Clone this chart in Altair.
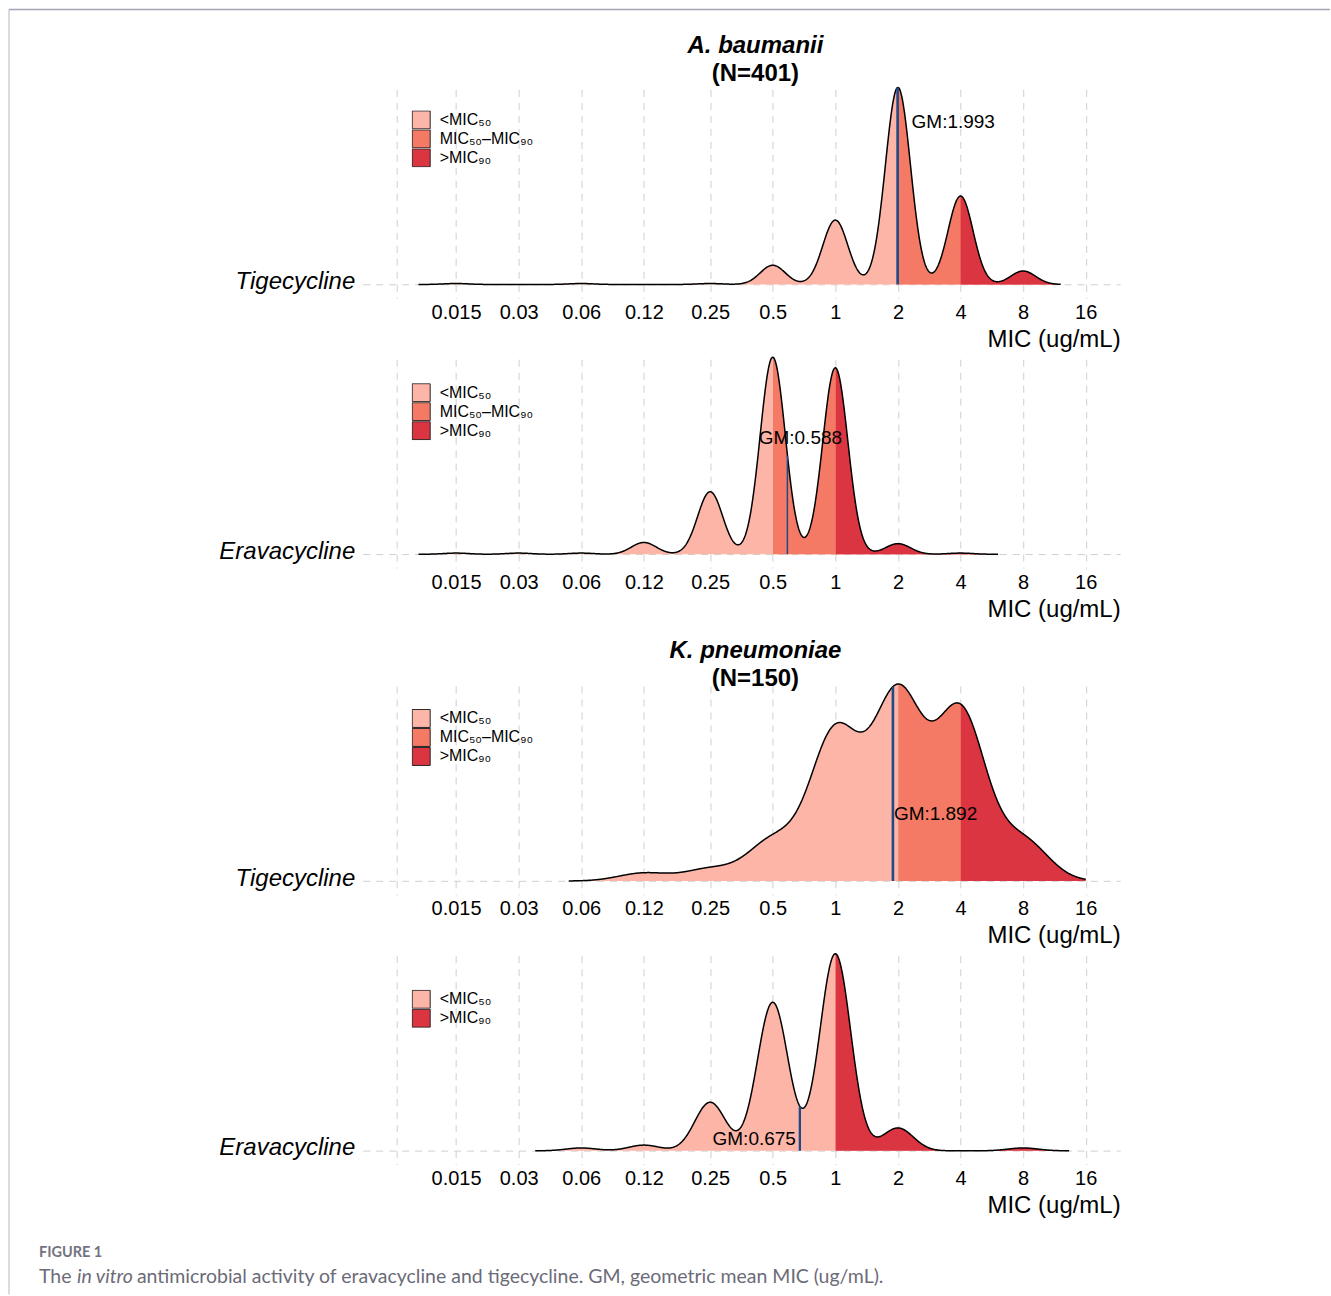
import numpy as np
import pandas as pd
import altair as alt

# MIC dilutions (ug/mL) and number of isolates at each dilution
AB_TIGE_MIC = [0.015, 0.06, 0.25, 0.5, 1, 2, 4, 8]
AB_TIGE_N = [1, 1, 1, 20, 67, 205, 92, 14]
AB_ERAVA_MIC = [0.015, 0.03, 0.06, 0.12, 0.25, 0.5, 1, 2, 4]
AB_ERAVA_N = [1, 1, 1, 10, 53, 167, 158, 9, 1]
KP_TIGE_MIC = [0.12, 0.25, 0.5, 1, 2, 4, 8]
KP_TIGE_N = [2, 3, 10, 37, 46, 42, 10]
KP_ERAVA_MIC = [0.06, 0.12, 0.25, 0.5, 1, 2, 8]
KP_ERAVA_N = [1, 2, 17, 52, 69, 8, 1]

# geometric means, MIC50 / MIC90 and kernel bandwidths (log2 units)
GM = [1.993, 0.588, 1.892, 0.675]
MIC50 = [2, 0.5, 2, 1]
MIC90 = [4, 1, 4, 1]
BANDWIDTH = [0.2, 0.2, 0.4, 0.245]

DRUGS = ["Tigecycline", "Eravacycline", "Tigecycline", "Eravacycline"]
SPECIES = [("A. baumanii", "(N=401)"), ("K. pneumoniae", "(N=150)")]

TICKS = [0.0078125, 0.015, 0.03, 0.06, 0.12, 0.25, 0.5, 1, 2, 4, 8, 16]

SEG_NAMES = ["<MIC\u2085\u2080", "MIC\u2085\u2080\u2013MIC\u2089\u2080", ">MIC\u2089\u2080"]
SEG_COLORS = ["#FDB5A8", "#F47A66", "#DC3542"]

# layout / style settings
PANEL_W = 758
PANEL_H = 209
X_DOMAIN = [-7.55, 4.55]
Y_DOMAIN = [-0.07, 0.99]
GRID = "#CFCFCF"
DASH = [7, 6]
GM_COLOR = "#1E4A86"
FONT = "Liberation Sans"

# GM label placement per panel: (height as share of peak, dx, align)
LABEL_POS = [(0.827, 14, "left"), (0.589, 13, "center"), (0.34, 1, "left"), (0.061, -4, "right")]
GM_WIDTH = [2.6, 1.5, 2.6, 2.3]
LEGEND_Y = [21, 24, 23, 34]
TITLE_OFFSET = [-2, -10]

one_row = pd.DataFrame({"k": [0]})


def x_enc():
    return alt.X(
        "lx:Q",
        scale=alt.Scale(domain=X_DOMAIN, nice=False, zero=False),
        axis=alt.Axis(
            values=[float(v) for v in np.log2(TICKS)],
            labelExpr="datum.value < -6.5 ? '' : format(pow(2, datum.value), '.4~g')",
            title="MIC (ug/mL)",
            grid=True, gridDash=DASH, gridColor=GRID, gridWidth=1,
            ticks=False, domain=False,
            labelFontSize=20, labelPadding=4, labelColor="#000",
            titleFontSize=24, titleFontWeight="normal", titleColor="#000",
            titleAnchor="end", titlePadding=5,
        ),
    )


def y_enc(field, drug):
    return alt.Y(
        field,
        scale=alt.Scale(domain=Y_DOMAIN, nice=False, zero=False),
        axis=alt.Axis(
            values=[0], labelExpr=f"'{drug}'", title=None,
            grid=True, gridDash=DASH, gridColor=GRID, gridWidth=1,
            ticks=False, domain=False,
            labelFontSize=24, labelFontStyle="italic", labelColor="#000",
            labelPadding=8, labelBaseline="middle", labelOffset=-3, labelLimit=400,
        ),
    )


def panel(i, mic, counts):
    drug = DRUGS[i]
    bw = BANDWIDTH[i]
    lo = float(np.log2(min(mic)) - 3 * bw)
    hi = float(min(np.log2(max(mic)) + 3 * bw, np.log2(16)))
    df = pd.DataFrame({"mic": np.repeat(mic, counts)})

    base = (
        alt.Chart(df)
        .transform_calculate(lx="log(datum.mic) / LN2")
        .transform_density("lx", as_=["lx", "dens"], bandwidth=bw, extent=[lo, hi], steps=1200)
        .transform_joinaggregate(peak="max(dens)")
        .transform_calculate(rel="datum.dens / datum.peak")
    )

    if MIC50[i] != MIC90[i]:
        names, colors = SEG_NAMES, SEG_COLORS
        cuts = [None, MIC50[i], MIC90[i]]
    else:
        names, colors = [SEG_NAMES[0], SEG_NAMES[2]], [SEG_COLORS[0], SEG_COLORS[2]]
        cuts = [None, MIC90[i]]

    color_scale = alt.Scale(domain=names, range=colors)
    legend = alt.Legend(
        orient="none", legendX=49, legendY=LEGEND_Y[i], title=None,
        symbolType="square", symbolSize=324, symbolStrokeColor="#222",
        symbolStrokeWidth=1, symbolOpacity=1, labelFontSize=16, labelColor="#000",
        labelOffset=9, rowPadding=0, clipHeight=19, padding=0,
    )

    layers = []
    for name, cut in zip(names, cuts):
        part = base
        if cut is not None:
            part = part.transform_filter(f"datum.lx >= {float(np.log2(cut))}")
        part = part.transform_calculate(seg=f"'{name}'")
        layers.append(
            part.mark_area(opacity=1).encode(
                x=x_enc(), y=y_enc("rel:Q", drug),
                color=alt.Color("seg:N", scale=color_scale, legend=legend),
            )
        )

    ridge = base.mark_line(color="black", strokeWidth=1.5).encode(
        x=x_enc(), y=y_enc("rel:Q", drug)
    )

    gml = float(np.log2(GM[i]))
    gm_rule = (
        base.transform_calculate(d=f"abs(datum.lx - ({gml}))")
        .transform_joinaggregate(dmin="min(d)")
        .transform_filter("datum.d == datum.dmin")
        .transform_calculate(lx=str(gml), zero="0")
        .mark_rule(color=GM_COLOR, strokeWidth=GM_WIDTH[i])
        .encode(x=x_enc(), y=y_enc("rel:Q", drug), y2="zero:Q")
    )

    ly, ldx, lalign = LABEL_POS[i]
    gm_df = pd.DataFrame({"lx": [gml], "ly": [ly], "txt": [f"GM:{GM[i]:.3f}"]})
    gm_text = alt.Chart(gm_df).mark_text(
        align=lalign, baseline="middle", dx=ldx, fontSize=19, color="#000", font=FONT
    ).encode(x=x_enc(), y=y_enc("ly:Q", drug), text="txt:N")

    return layers + [ridge, gm_rule, gm_text]


def spacer(h):
    return (
        alt.Chart(one_row)
        .mark_point(opacity=0)
        .encode(x=alt.X("k:Q", axis=None), y=alt.Y("k:Q", axis=None))
        .properties(width=PANEL_W, height=h)
    )


def species_title(i):
    return alt.TitleParams(
        text=SPECIES[i][0], subtitle=SPECIES[i][1],
        fontSize=24, fontStyle="italic", fontWeight="bold", color="#000", font=FONT,
        subtitleFontSize=24, subtitleFontWeight="bold", subtitleFontStyle="normal",
        subtitleColor="#000", subtitleFont=FONT, subtitlePadding=4,
        anchor="middle", dx=14, offset=TITLE_OFFSET[i],
    )


# page frame (drawn from the last panel, whose plot starts 947 px below the frame top)
frame = [
    alt.Chart(one_row).mark_rule(color="#CFCFD8", strokeWidth=1.5).encode(
        x=alt.value(-354), y=alt.value(-947), y2=alt.value(339)
    ),
    alt.Chart(one_row).mark_rule(color="#A4A4B4", strokeWidth=1.5).encode(
        x=alt.value(-354), x2=alt.value(968), y=alt.value(-947)
    ),
]

CAPTION_COLOR = "#6B6B78"
caption = [
    alt.Chart(one_row).mark_text(
        text="FIGURE 1", align="left", baseline="middle", font="Lato",
        fontSize=14.5, fontWeight="bold", color="#73737F",
    ).encode(x=alt.value(-324), y=alt.value(297)),
    alt.Chart(one_row).mark_text(
        text="The", align="left", baseline="middle", font="Lato",
        fontSize=19.5, color=CAPTION_COLOR,
    ).encode(x=alt.value(-324), y=alt.value(321)),
    alt.Chart(one_row).mark_text(
        text="in vitro", align="left", baseline="middle", font="Lato",
        fontSize=19.5, fontStyle="italic", color=CAPTION_COLOR,
    ).encode(x=alt.value(-286), y=alt.value(321)),
    alt.Chart(one_row).mark_text(
        text="antimicrobial activity of eravacycline and tigecycline. GM, geometric mean MIC (ug/mL).",
        align="left", baseline="middle", font="Lato", fontSize=19.5, color=CAPTION_COLOR,
    ).encode(x=alt.value(-226), y=alt.value(321)),
]

p1 = alt.layer(*panel(0, AB_TIGE_MIC, AB_TIGE_N)).properties(
    width=PANEL_W, height=PANEL_H, title=species_title(0)
)
p2 = alt.layer(*panel(1, AB_ERAVA_MIC, AB_ERAVA_N)).properties(width=PANEL_W, height=PANEL_H)
p3 = alt.layer(*panel(2, KP_TIGE_MIC, KP_TIGE_N)).properties(
    width=PANEL_W, height=PANEL_H, title=species_title(1)
)
p4 = alt.layer(*panel(3, KP_ERAVA_MIC, KP_ERAVA_N), *caption, *frame).properties(
    width=PANEL_W, height=PANEL_H
)

chart = (
    alt.vconcat(p1, spacer(61), p2, spacer(118), p3, spacer(61), p4, spacing=0, bounds="flush")
    .resolve_scale(color="independent")
    .properties(padding={"left": 8, "top": 8, "right": 0, "bottom": 0}, background="white")
    .configure(font=FONT)
    .configure_view(stroke=None)
)

chart.save("out.html", embed_options={"renderer": "svg", "actions": False})
